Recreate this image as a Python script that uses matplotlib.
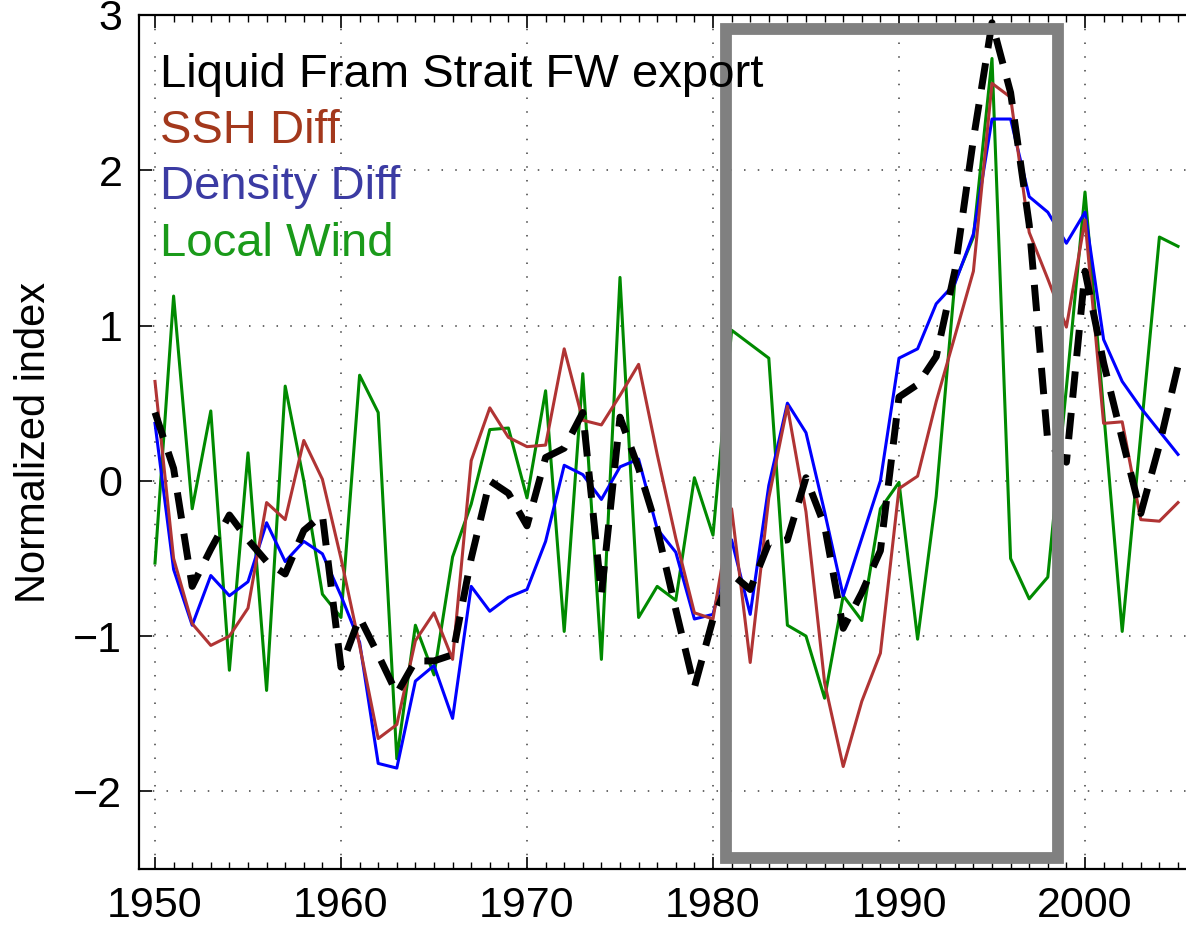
import numpy as np
import matplotlib
matplotlib.use('Agg')
import matplotlib.pyplot as plt
from matplotlib.patches import Rectangle

plt.rcParams['font.family'] = ['Liberation Sans', 'DejaVu Sans']

# years 1950-2005
years = np.arange(1950, 2006)

# Liquid Fram Strait FW export (black dashed)
fw_export = [0.44, 0.08, -0.68, -0.44, -0.22, -0.38, -0.52, -0.60, -0.32, -0.22,
             -1.20, -0.88, -1.12, -1.37, -1.16, -1.16, -1.12, -0.50, 0.00, -0.08,
             -0.29, 0.15, 0.21, 0.44, -0.73, 0.41, 0.08, -0.31, -0.83, -1.33,
             -0.89, -0.60, -0.70, -0.40, -0.38, 0.02, -0.29, -0.95, -0.72, -0.45,
             0.54, 0.62, 0.80, 1.35, 2.20, 2.95, 2.50, 1.65, 0.25, 0.12,
             1.35, 0.76, 0.27, -0.21, 0.23, 0.74]

# SSH Diff
ssh_diff = [0.64, -0.50, -0.92, -1.06, -1.00, -0.82, -0.14, -0.25, 0.26, 0.01,
            -0.50, -1.06, -1.66, -1.57, -1.03, -0.85, -1.15, 0.13, 0.47, 0.28,
            0.22, 0.23, 0.85, 0.39, 0.36, 0.55, 0.75, 0.17, -0.37, -0.85,
            -0.89, -0.18, -1.17, -0.11, 0.48, -0.20, -1.30, -1.84, -1.42, -1.11,
            -0.05, 0.03, 0.51, 0.93, 1.35, 2.56, 2.47, 1.60, 1.30, 0.99,
            1.68, 0.37, 0.38, -0.25, -0.26, -0.14]

# Density Diff
dens_diff = [0.37, -0.57, -0.93, -0.61, -0.74, -0.65, -0.27, -0.52, -0.39, -0.47,
             -0.74, -1.04, -1.82, -1.85, -1.29, -1.19, -1.53, -0.68, -0.84, -0.75,
             -0.70, -0.39, 0.10, 0.04, -0.12, 0.09, 0.14, -0.31, -0.46, -0.89,
             -0.86, -0.38, -0.86, -0.03, 0.50, 0.31, -0.20, -0.74, -0.37, 0.00,
             0.79, 0.85, 1.14, 1.27, 1.59, 2.33, 2.33, 1.83, 1.73, 1.53,
             1.73, 0.91, 0.64, 0.47, 0.32, 0.17]

# Local Wind
local_wind = [-0.53, 1.19, -0.18, 0.45, -1.22, 0.18, -1.35, 0.61, 0.00, -0.73,
              -0.88, 0.68, 0.44, -1.79, -0.93, -1.25, -0.49, -0.15, 0.33, 0.34,
              -0.11, 0.58, -0.97, 0.69, -1.15, 1.31, -0.88, -0.68, -0.77, 0.02,
              -0.35, 0.97, 0.88, 0.79, -0.93, -1.00, -1.40, -0.74, -0.90, -0.18,
              -0.01, -1.02, -0.10, 1.28, 1.57, 2.72, -0.50, -0.76, -0.62, 0.60,
              1.86, 0.45, -0.97, 0.30, 1.57, 1.51]

labels = ['Liquid Fram Strait FW export', 'SSH Diff', 'Density Diff', 'Local Wind']
label_colors = ['black', '#a3381c', '#3b3ba3', '#1a9a1a']

# highlighted period box
box_x0, box_x1 = 1980.7, 1998.55
box_y0, box_y1 = -2.43, 2.91

W, H = 1186, 927
fig = plt.figure(figsize=(W / 100, H / 100), dpi=100)
ax = fig.add_axes([139 / W, 1 - 869 / H, (W - 139) / W, (869 - 15) / H])

ax.plot(years, local_wind, color='#008a00', lw=2.2, zorder=3)
ax.plot(years, dens_diff, color='#0000ff', lw=2.2, zorder=4)
ax.plot(years, ssh_diff, color='#b03434', lw=2.2, zorder=5)
ax.plot(years, fw_export, color='black', lw=5, dashes=(3.8, 2.2), zorder=6)

ax.add_patch(Rectangle((box_x0, box_y0), box_x1 - box_x0, box_y1 - box_y0,
                       fill=False, edgecolor='#808080', lw=8.5, zorder=7,
                       joinstyle='miter'))

ax.set_xlim(1949.14, 2005.43)
ax.set_ylim(-2.5, 3)
ax.set_xticks(np.arange(1950, 2001, 10))
ax.set_xticks(np.arange(1950, 2006, 1), minor=True)
ax.set_yticks([-2, -1, 0, 1, 2, 3])
ax.set_yticklabels(['\u22122', '\u22121', '0', '1', '2', '3'])

ax.grid(True, which='major', color='0.25', linestyle=(0, (1, 8)), lw=1.1)
ax.tick_params(axis='both', which='major', direction='in', length=9, width=1.2,
               labelsize=31, top=True, right=False, pad=12)
ax.tick_params(axis='x', which='minor', direction='in', length=5, width=1,
               top=True)
ax.spines['right'].set_visible(False)
for s in ['left', 'bottom', 'top']:
    ax.spines[s].set_linewidth(1.6)

ax.set_ylabel('Normalized index', fontsize=30, labelpad=14)

baselines = [87, 143, 199, 256]
for txt, col, yb in zip(labels, label_colors, baselines):
    fig.text(160 / W, 1 - yb / H, txt, color=col, fontsize=34,
             ha='left', va='baseline', zorder=10)

fig.savefig('out.png', dpi=100)
